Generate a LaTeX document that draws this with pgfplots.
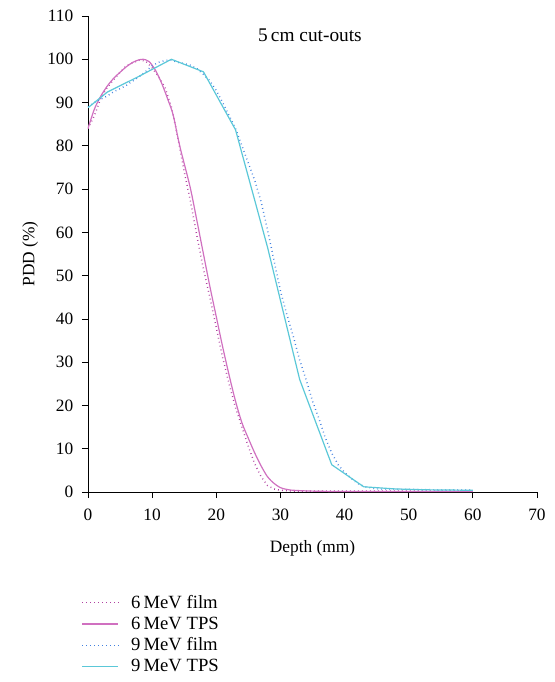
\documentclass[border=0pt]{standalone}
\usepackage{pgfplots}
\pgfplotsset{compat=1.18}
\usepackage{fontspec}
\setmainfont{Liberation Serif}
\definecolor{filmsix}{RGB}{176,64,160}
\definecolor{tpssix}{RGB}{208,112,192}
\definecolor{filmnine}{RGB}{64,128,224}
\definecolor{tpsnine}{RGB}{91,200,216}
\begin{document}
\begin{tikzpicture}
\begin{axis}[
    scale only axis,
    width=336.75pt, height=357pt,
    xmin=0, xmax=70, ymin=0, ymax=110,
    xtick={0,10,...,70}, ytick={0,10,...,110},
    axis lines*=left,
    tick align=outside, major tick length=4.5pt,
    tick style={black, line width=0.6pt},
    axis line style={line width=0.6pt},
    /pgf/number format/assume math mode=true,
    tick label style={font=\fontsize{13}{15}\selectfont},
    xticklabel style={yshift=-5pt},
    yticklabel style={xshift=-3pt},
    label style={font=\fontsize{13}{15}\selectfont},
    xlabel={Depth (mm)}, ylabel={PDD (\%)},
    xlabel style={yshift=-8pt},
    ylabel style={yshift=0pt},
    legend style={at={(-0.024,-0.205)}, anchor=north west, draw=none,
        font=\fontsize{14}{15}\selectfont, row sep=0.9pt,
        legend cell align=left},
    legend image code/.code={\draw[#1] (0cm,0cm) -- (0.95cm,0cm); \path (1.2cm,0cm);},
]
% 6 MeV film
\addplot[filmsix, line width=1.1pt, dash pattern=on 0.6pt off 2.4pt] coordinates {
(0,84) (1,87) (2,91) (3,93.5) (4,95.3) (5,97) (6,98.5) (7,99.2) (8,99.8) (9,99.6)
(10,98) (11,96) (12,93.5) (13,89) (14,82) (15,74) (16,67) (17,59) (18,51.5)
(19,45) (20,38) (21,31) (22,25) (23,19.5) (24,15) (25,10.5) (26,6.5) (27,3.5)
(28,1.5) (29,0.7) (30,0.4) (32,0.2) (35,0.2) (40,0.2) (45,0.2) (50,0.2) (55,0.2) (60,0.2)
};
\addlegendentry{6\,MeV film}
% 6 MeV TPS
\addplot[tpssix, line width=0.9pt, smooth] coordinates {
(0,84) (1,88.5) (2,91.5) (3,93.8) (4,95.6) (5,97) (6,98.3) (7,99.3) (8,99.9) (8.6,100)
(9.5,99.5) (10.5,97.5) (11.5,94.4) (12.5,90.5) (13.3,87) (14.3,80) (15.9,70.6)
(16.9,63.3) (18,55) (19,47.5) (20,40.5) (21,33.5) (22,27) (23,21) (24,16) (25,12.4)
(26,9) (27,6) (28,3.5) (29,2) (30,1) (31,0.6) (32,0.4) (35,0.2) (40,0.1) (45,0.1)
(50,0.1) (55,0.1) (60,0.1)
};
\addlegendentry{6\,MeV TPS}
% 9 MeV film
\addplot[filmnine, line width=1.1pt, dash pattern=on 0.6pt off 2.4pt] coordinates {
(0,89) (1,90) (2,90.8) (3,91.5) (4,92.5) (5,93.2) (6,94) (7,95) (8,96) (9,97.2)
(10,98.5) (11,99.3) (12,99.7) (13,99.8) (14,99.3) (15,99) (16,98.6) (17,97.8)
(18,96.5) (19,95) (20,92.8) (21,90) (22,87) (23,84) (24,80) (25,76) (26,72) (27,67)
(28,60.5) (29,53.5) (30,46.5) (31,41) (32,36) (33,30.5) (34,26) (35,21) (36,17)
(37,12.5) (38,9) (39,6.3) (40,4.5) (41,3.2) (42,2) (43,1.3) (44,1) (45,0.7) (50,0.6)
(55,0.5) (60,0.5)
};
\addlegendentry{9\,MeV film}
% 9 MeV TPS
\addplot[tpsnine, line width=0.9pt] coordinates {
(0,88.8) (3,92.4) (8,96.1) (13,100) (18,97.1) (23,83.7) (28,56.5) (33,26)
(38,6.3) (43,1.2) (48,0.7) (53,0.5) (60,0.4)
};
\addlegendentry{9\,MeV TPS}
\node[font=\fontsize{14.5}{16}\selectfont] at (axis cs:34.6,105.6) {5\,cm cut-outs};
\end{axis}
\useasboundingbox (-66pt,-142.5pt) rectangle (350.25pt,369pt);
\end{tikzpicture}
\end{document}
